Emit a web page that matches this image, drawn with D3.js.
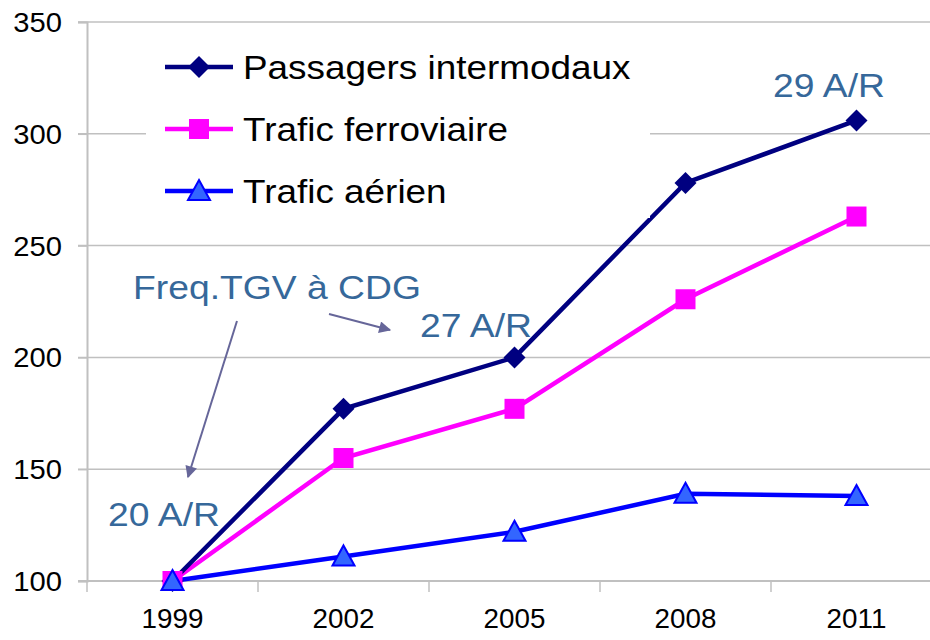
<!DOCTYPE html>
<html>
<head>
<meta charset="utf-8">
<title>Trafic CDG</title>
<script src="https://d3js.org/d3.v7.min.js"></script>
<style>
  body { margin: 0; background: #fff; }
  text { font-family: "Liberation Sans", Arial, sans-serif; }
</style>
</head>
<body>
<div id="chart"></div>
<script>
  var years = ['1999', '2002', '2005', '2008', '2011'];
  var intermodaux = [100, 177, 200, 278, 306];
  var ferroviaire = [100, 155, 177, 226, 263];
  var aerien = [100, 111, 122, 139, 138];
  var yTicks = [100, 150, 200, 250, 300, 350];
  var seriesNames = ['Passagers intermodaux', 'Trafic ferroviaire', 'Trafic aérien'];

  var width = 930, height = 640;
  var svg = d3.select('#chart').append('svg')
    .attr('width', width).attr('height', height);

  // the original text is slightly stretched horizontally
  function label(parent, str, px, py, size, sx, anchor, color) {
    return parent.append('text')
      .attr('transform', 'translate(' + px + ',' + py + ') scale(' + sx + ',1)')
      .attr('text-anchor', anchor || 'start')
      .attr('font-size', size).attr('fill', color || '#000')
      .text(str);
  }

  var x = d3.scaleBand().domain(years).range([87, 942]);
  var y = d3.scaleLinear().domain([100, 350]).range([581, 22]);

  // grid
  svg.append('g').selectAll('line').data(yTicks).enter().append('line')
    .attr('x1', 78).attr('x2', 942)
    .attr('y1', function(d) { return y(d); }).attr('y2', function(d) { return y(d); })
    .attr('stroke', '#c0c0c0').attr('stroke-width', 1.5);

  // y axis
  var yAxis = svg.append('g').attr('transform', 'translate(87,0)')
    .call(d3.axisLeft(y).tickValues(yTicks).tickSize(9).tickFormat(''));
  yAxis.select('.domain').attr('stroke', '#c0c0c0').attr('stroke-width', 2);
  yAxis.selectAll('.tick line').attr('stroke', '#c0c0c0').attr('stroke-width', 1.5);
  yTicks.forEach(function(t) {
    label(svg, t, 62, y(t) + 10, 27, 1.08, 'end');
  });

  // x axis with ticks at band edges
  var xg = svg.append('g');
  xg.append('line').attr('x1', 78).attr('x2', 942).attr('y1', y(100)).attr('y2', y(100))
    .attr('stroke', '#c0c0c0').attr('stroke-width', 2);
  var edges = years.map(function(d) { return x(d); });
  xg.selectAll('.xt').data(edges).enter().append('line')
    .attr('x1', function(d) { return d; }).attr('x2', function(d) { return d; })
    .attr('y1', y(100)).attr('y2', y(100) + 11)
    .attr('stroke', '#c0c0c0').attr('stroke-width', 1.5);
  years.forEach(function(d) {
    label(xg, d, x(d) + x.bandwidth() / 2, 628, 27, 1.03, 'middle');
  });

  var cx = function(d, i) { return x(years[i]) + x.bandwidth() / 2; };
  var line = d3.line().x(function(d, i) { return cx(d, i); }).y(function(d) { return y(d); });

  var series = [
    { name: seriesNames[0], values: intermodaux, color: '#000080', marker: 'diamond', fill: '#000080' },
    { name: seriesNames[1], values: ferroviaire, color: '#ff00ff', marker: 'square', fill: '#ff00ff' },
    { name: seriesNames[2], values: aerien, color: '#0000ff', marker: 'triangle', fill: '#3366ff' }
  ];

  function marker(sel, s) {
    if (s.marker === 'diamond') {
      sel.append('path').attr('d', 'M0,-11L11,0L0,11L-11,0Z').attr('fill', s.fill);
    } else if (s.marker === 'square') {
      sel.append('rect').attr('x', -10).attr('y', -10).attr('width', 20).attr('height', 20).attr('fill', s.fill);
    } else {
      sel.append('path').attr('d', 'M0,-11L11,9L-11,9Z').attr('fill', s.fill)
        .attr('stroke', s.color).attr('stroke-width', 2);
    }
  }

  series.slice().reverse().forEach(function(s) {
    svg.append('path').datum(s.values).attr('d', line)
      .attr('fill', 'none').attr('stroke', s.color).attr('stroke-width', 4.5);
  });
  series.forEach(function(s) {
    s.values.forEach(function(v, i) {
      var g = svg.append('g').attr('transform', 'translate(' + cx(v, i) + ',' + y(v) + ')');
      marker(g, s);
    });
  });

  // legend
  svg.append('rect').attr('x', 146).attr('y', 30).attr('width', 504).attr('height', 188).attr('fill', '#fff');
  var rows = [67, 129, 191];
  series.forEach(function(s, i) {
    var g = svg.append('g').attr('transform', 'translate(0,' + rows[i] + ')');
    g.append('line').attr('x1', 165).attr('x2', 233).attr('stroke', s.color).attr('stroke-width', 4.5);
    marker(g.append('g').attr('transform', 'translate(199,0)'), s);
    label(g, s.name, 243, 12, 34, 1.085, 'start');
  });

  // annotations
  var noteColor = '#36689a';
  var notes = [
    { t: 'Freq.TGV à CDG', x: 133, y: 299 },
    { t: '27 A/R', x: 420, y: 337 },
    { t: '20 A/R', x: 108, y: 526 },
    { t: '29 A/R', x: 773, y: 97 }
  ];
  notes.forEach(function(n) {
    label(svg, n.t, n.x, n.y, 33, 1.13, 'start', noteColor);
  });

  var defs = svg.append('defs');
  defs.append('marker').attr('id', 'ah').attr('viewBox', '0 0 10 10')
    .attr('refX', 9).attr('refY', 5).attr('markerWidth', 15).attr('markerHeight', 12)
    .attr('markerUnits', 'userSpaceOnUse').attr('orient', 'auto')
    .append('path').attr('d', 'M0,0L10,5L0,10Z').attr('fill', '#666699');
  var arrows = [[237, 321, 188, 477], [329, 314, 390, 330]];
  arrows.forEach(function(a) {
    svg.append('line').attr('x1', a[0]).attr('y1', a[1]).attr('x2', a[2]).attr('y2', a[3])
      .attr('stroke', '#666699').attr('stroke-width', 2).attr('marker-end', 'url(#ah)');
  });
</script>
</body>
</html>
